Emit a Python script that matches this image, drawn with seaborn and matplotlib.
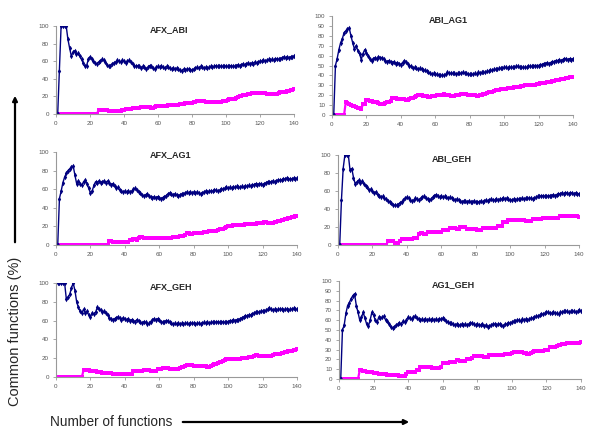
import numpy as np
import pandas as pd
import matplotlib
matplotlib.use("Agg")
import matplotlib.pyplot as plt
import seaborn as sns

# x positions (number of functions)
n_funcs = list(range(1, 141))

titles = ["AFX_ABI", "ABI_AG1", "AFX_AG1", "ABI_GEH", "AFX_GEH", "AG1_GEH"]

afx_abi_blue = [0, 49, 100, 100, 100, 100, 85, 75, 66, 70,
                72, 68, 69, 66, 62, 58, 54, 55, 62, 65,
                63, 60, 58, 57, 59, 60, 62, 61, 59, 56,
                54, 55, 57, 58, 59, 61, 60, 59, 61, 60,
                58, 60, 61, 59, 57, 55, 54, 55, 54, 52,
                54, 53, 51, 53, 55, 54, 52, 51, 53, 54,
                53, 54, 53, 52, 54, 53, 52, 51, 52, 51,
                52, 51, 50, 49, 51, 50, 51, 51, 50, 50,
                51, 52, 53, 52, 54, 53, 52, 53, 52, 53,
                54, 53, 54, 55, 54, 55, 54, 54, 55, 54,
                54, 54, 55, 54, 54, 55, 56, 55, 56, 57,
                56, 57, 58, 57, 58, 57, 59, 58, 59, 60,
                60, 61, 60, 61, 62, 61, 62, 61, 62, 63,
                62, 63, 64, 65, 64, 65, 64, 65, 65, 66]
afx_abi_pink = [0, 0, 0, 0, 0, 0, 0, 0, 0, 0,
                0, 0, 0, 0, 0, 0, 0, 0, 0, 0,
                0, 0, 0, 0, 4, 4, 4, 4, 5, 5,
                3, 3, 3, 3, 3, 3, 3, 3, 5, 5,
                6, 6, 6, 6, 7, 7, 7, 7, 7, 8,
                8, 8, 8, 8, 8, 7, 7, 8, 9, 9,
                9, 9, 9, 9, 9, 10, 10, 10, 10, 10,
                10, 10, 11, 11, 11, 12, 13, 13, 13, 13,
                14, 14, 15, 15, 15, 15, 15, 14, 14, 14,
                14, 14, 14, 14, 14, 14, 14, 15, 15, 15,
                16, 17, 17, 17, 17, 18, 19, 20, 21, 22,
                22, 22, 23, 23, 24, 24, 24, 24, 24, 24,
                24, 24, 24, 23, 23, 23, 23, 23, 23, 23,
                24, 25, 25, 25, 25, 26, 26, 27, 27, 28]

abi_ag1_blue = [0, 50, 57, 66, 73, 77, 83, 85, 87, 88,
                80, 73, 67, 70, 65, 62, 56, 62, 66, 63,
                60, 57, 55, 57, 58, 57, 59, 58, 58, 57,
                55, 54, 55, 54, 53, 54, 52, 53, 52, 51,
                53, 55, 54, 52, 50, 49, 47, 48, 47, 46,
                47, 46, 45, 45, 44, 43, 42, 41, 42, 41,
                41, 40, 40, 40, 40, 41, 43, 42, 42, 42,
                42, 41, 42, 42, 42, 43, 42, 42, 41, 41,
                41, 41, 42, 41, 43, 42, 43, 43, 43, 44,
                44, 45, 45, 46, 46, 46, 47, 47, 47, 48,
                48, 47, 48, 48, 48, 48, 49, 49, 48, 48,
                48, 48, 48, 49, 49, 49, 50, 50, 50, 50,
                51, 51, 52, 52, 53, 52, 53, 54, 54, 55,
                55, 56, 55, 56, 57, 57, 56, 57, 56, 57]
abi_ag1_pink = [0, 0, 0, 0, 0, 0, 0, 13, 12, 11,
                10, 9, 9, 8, 7, 7, 6, 11, 11, 15,
                15, 14, 14, 13, 13, 13, 12, 11, 11, 11,
                12, 13, 13, 14, 17, 17, 17, 16, 16, 16,
                16, 16, 15, 15, 16, 17, 17, 18, 19, 20,
                20, 20, 19, 19, 19, 18, 18, 19, 19, 19,
                20, 20, 20, 20, 21, 20, 20, 20, 19, 19,
                19, 20, 20, 20, 21, 21, 21, 21, 20, 20,
                20, 20, 20, 19, 19, 20, 20, 21, 21, 22,
                23, 23, 23, 24, 25, 25, 25, 26, 26, 26,
                26, 27, 27, 27, 27, 28, 28, 28, 28, 29,
                29, 30, 30, 30, 30, 30, 30, 30, 31, 31,
                32, 32, 32, 32, 33, 33, 33, 34, 34, 35,
                35, 35, 36, 36, 36, 37, 37, 38, 38, 38]

afx_ag1_blue = [0, 50, 58, 67, 73, 77, 80, 82, 84, 85,
                75, 66, 69, 66, 64, 68, 70, 66, 61, 56,
                58, 64, 68, 67, 69, 67, 68, 69, 67, 69,
                67, 65, 66, 63, 61, 62, 59, 58, 57, 58,
                57, 58, 57, 58, 60, 61, 59, 57, 56, 54,
                53, 54, 55, 53, 52, 51, 52, 51, 52, 51,
                50, 51, 52, 53, 55, 56, 55, 54, 55, 54,
                53, 54, 55, 55, 56, 57, 56, 57, 56, 57,
                56, 57, 56, 55, 56, 57, 58, 57, 58, 58,
                58, 59, 59, 58, 59, 60, 60, 61, 62, 61,
                62, 61, 62, 62, 63, 62, 62, 63, 62, 63,
                63, 64, 63, 64, 65, 66, 65, 66, 66, 65,
                66, 67, 68, 68, 68, 69, 68, 69, 70, 70,
                70, 71, 71, 72, 71, 71, 71, 72, 71, 72]
afx_ag1_pink = [0, 0, 0, 0, 0, 0, 0, 0, 0, 0,
                0, 0, 0, 0, 0, 0, 0, 0, 0, 0,
                0, 0, 0, 0, 0, 0, 0, 0, 0, 0,
                4, 4, 3, 3, 3, 3, 3, 3, 3, 3,
                3, 3, 5, 5, 6, 6, 5, 8, 9, 9,
                8, 8, 8, 8, 8, 8, 8, 7, 7, 7,
                7, 7, 7, 8, 8, 8, 8, 9, 9, 9,
                9, 10, 10, 10, 11, 13, 13, 12, 12, 13,
                13, 13, 13, 13, 13, 14, 14, 14, 15, 15,
                15, 15, 15, 16, 17, 17, 17, 18, 19, 20,
                20, 20, 21, 22, 22, 22, 22, 22, 22, 23,
                23, 23, 23, 23, 23, 23, 24, 24, 24, 24,
                25, 25, 24, 24, 24, 24, 25, 25, 26, 26,
                27, 27, 28, 28, 29, 29, 30, 30, 31, 31]

abi_geh_blue = [0, 50, 85, 100, 100, 100, 83, 85, 75, 68,
                70, 72, 69, 71, 68, 66, 64, 61, 62, 60,
                58, 59, 56, 55, 53, 54, 52, 51, 49, 48,
                47, 45, 44, 44, 45, 47, 48, 50, 52, 53,
                52, 50, 49, 50, 52, 51, 50, 52, 53, 54,
                52, 51, 50, 51, 53, 55, 56, 55, 53, 54,
                53, 54, 53, 52, 53, 52, 51, 50, 51, 50,
                49, 48, 49, 49, 48, 49, 48, 48, 49, 48,
                48, 48, 49, 48, 49, 50, 49, 50, 51, 50,
                50, 51, 50, 51, 51, 52, 51, 52, 51, 50,
                50, 51, 50, 51, 51, 51, 52, 51, 52, 52,
                52, 52, 51, 52, 53, 54, 55, 54, 55, 54,
                55, 54, 55, 55, 56, 55, 56, 57, 57, 58,
                57, 58, 58, 57, 58, 58, 57, 58, 57, 57]
abi_geh_pink = [0, 0, 0, 0, 0, 0, 0, 0, 0, 0,
                0, 0, 0, 0, 0, 0, 0, 0, 0, 0,
                0, 0, 0, 0, 0, 0, 0, 0, 4, 4,
                4, 4, 2, 2, 2, 5, 7, 7, 7, 7,
                7, 7, 7, 8, 8, 8, 12, 13, 13, 12,
                12, 15, 15, 15, 15, 14, 14, 14, 14, 14,
                17, 17, 17, 17, 19, 19, 19, 19, 18, 18,
                20, 20, 20, 20, 18, 18, 18, 18, 18, 18,
                17, 17, 17, 19, 19, 19, 19, 19, 19, 19,
                19, 19, 21, 21, 21, 26, 26, 26, 28, 28,
                28, 28, 28, 28, 28, 28, 28, 28, 27, 27,
                27, 27, 29, 29, 29, 29, 29, 29, 30, 30,
                30, 30, 30, 30, 30, 30, 30, 30, 32, 32,
                32, 32, 32, 32, 32, 32, 32, 32, 32, 31]

afx_geh_blue = [100, 100, 100, 100, 100, 83, 85, 88, 95, 100,
                92, 80, 74, 70, 68, 72, 68, 70, 66, 64,
                68, 67, 69, 74, 72, 71, 69, 70, 68, 66,
                63, 62, 61, 62, 63, 64, 63, 61, 63, 62,
                61, 62, 60, 61, 60, 59, 61, 60, 58, 57,
                59, 58, 56, 57, 59, 61, 62, 61, 62, 61,
                59, 58, 59, 60, 60, 58, 57, 56, 57, 56,
                57, 56, 57, 56, 57, 57, 56, 57, 57, 57,
                56, 57, 57, 56, 57, 58, 57, 58, 57, 58,
                58, 59, 58, 59, 58, 58, 59, 58, 59, 59,
                60, 60, 61, 60, 61, 61, 62, 63, 64, 65,
                65, 66, 66, 67, 68, 69, 69, 69, 70, 70,
                70, 71, 72, 73, 72, 71, 72, 71, 72, 72,
                72, 71, 72, 72, 71, 72, 72, 73, 72, 72]
afx_geh_pink = [0, 0, 0, 0, 0, 0, 0, 0, 0, 0,
                0, 0, 0, 0, 0, 7, 7, 7, 7, 6,
                6, 6, 6, 5, 5, 5, 4, 4, 4, 4,
                4, 4, 3, 3, 3, 3, 3, 3, 3, 3,
                3, 3, 3, 3, 6, 6, 6, 6, 6, 6,
                7, 7, 7, 7, 6, 6, 6, 6, 8, 8,
                9, 10, 10, 10, 10, 9, 9, 9, 9, 9,
                9, 10, 11, 11, 12, 13, 13, 13, 13, 12,
                12, 12, 12, 12, 12, 12, 12, 11, 11, 12,
                13, 14, 14, 15, 16, 16, 17, 18, 19, 19,
                19, 19, 19, 19, 19, 19, 19, 20, 20, 20,
                20, 21, 21, 21, 22, 23, 23, 22, 22, 22,
                22, 22, 22, 22, 22, 23, 24, 24, 24, 25,
                26, 26, 27, 27, 28, 28, 28, 29, 29, 30]

ag1_geh_blue = [0, 50, 55, 67, 75, 78, 82, 85, 87, 75,
                68, 60, 63, 68, 62, 56, 54, 60, 68, 65,
                60, 58, 63, 62, 63, 64, 60, 59, 56, 53,
                52, 53, 55, 56, 57, 56, 59, 58, 60, 63,
                62, 61, 63, 64, 62, 61, 60, 61, 60, 61,
                60, 61, 60, 61, 60, 61, 60, 61, 61, 62,
                61, 59, 58, 57, 57, 56, 55, 56, 55, 55,
                56, 55, 56, 55, 56, 57, 57, 56, 55, 56,
                55, 55, 56, 54, 55, 53, 54, 55, 56, 56,
                55, 56, 56, 55, 54, 56, 56, 57, 57, 58,
                59, 59, 60, 60, 59, 61, 60, 61, 60, 61,
                62, 62, 63, 64, 64, 65, 66, 66, 67, 68,
                68, 67, 67, 68, 67, 67, 66, 68, 68, 69,
                69, 69, 68, 69, 69, 69, 68, 69, 70, 69]
ag1_geh_pink = [0, 0, 0, 0, 0, 0, 0, 0, 0, 0,
                0, 9, 9, 8, 8, 7, 7, 7, 7, 6,
                6, 6, 5, 5, 5, 5, 5, 4, 4, 4,
                4, 4, 4, 4, 3, 3, 3, 3, 5, 7,
                7, 7, 7, 7, 9, 9, 12, 12, 12, 12,
                12, 12, 12, 11, 11, 11, 11, 11, 12, 16,
                16, 16, 16, 17, 17, 17, 17, 19, 19, 18,
                18, 18, 18, 20, 20, 20, 21, 23, 23, 23,
                23, 23, 23, 22, 22, 22, 24, 24, 24, 24,
                25, 25, 25, 25, 25, 26, 26, 26, 26, 27,
                28, 28, 28, 28, 28, 28, 27, 27, 26, 26,
                27, 28, 29, 29, 29, 29, 29, 29, 30, 30,
                30, 33, 33, 33, 33, 34, 35, 35, 36, 36,
                36, 37, 37, 37, 37, 37, 37, 37, 37, 38]

blue_series = [afx_abi_blue, abi_ag1_blue, afx_ag1_blue, abi_geh_blue, afx_geh_blue, ag1_geh_blue]
pink_series = [afx_abi_pink, abi_ag1_pink, afx_ag1_pink, abi_geh_pink, afx_geh_pink, ag1_geh_pink]
ytick_steps = [20, 10, 20, 20, 20, 10]

sns.set_style("white")
plt.rcParams["font.family"] = ["Liberation Sans", "DejaVu Sans"]

W, H = 600, 443
fig = plt.figure(figsize=(6, 4.43), dpi=100)

# axes boxes in pixels: left, right, top(y=100), bottom(y=0)
boxes = [(56, 294, 26, 114), (332, 573, 16, 115),
         (56, 297, 152, 245), (338, 579, 155, 245),
         (56, 297, 283, 377), (339, 581, 281, 379)]
title_pos = [(169, 30), (448, 20), (171, 155), (452, 159), (171, 287), (453, 285)]

for i in range(6):
    l, r, t, b = boxes[i]
    ax = fig.add_axes([l / W, 1 - b / H, (r - l) / W, (b - t) / H])
    df = pd.DataFrame({"n": n_funcs, "blue": blue_series[i], "pink": pink_series[i]})
    sns.lineplot(data=df, x="n", y="pink", ax=ax, color="#ff00ff", linewidth=1.6,
                 marker="s", markersize=2.8, markeredgewidth=0)
    sns.lineplot(data=df, x="n", y="blue", ax=ax, color="#000080", linewidth=1.0,
                 marker="d", markersize=2.8, markeredgewidth=0)
    ax.set_xlim(0, 140)
    ax.set_ylim(0, 100)
    ax.set_xticks(range(0, 141, 20))
    ax.set_yticks(range(0, 101, ytick_steps[i]))
    ax.set_xlabel("")
    ax.set_ylabel("")
    for s in ["top", "right"]:
        ax.spines[s].set_visible(False)
    for s in ["left", "bottom"]:
        ax.spines[s].set_color("#999999")
        ax.spines[s].set_linewidth(0.8)
    ax.tick_params(labelsize=4.5, labelcolor="#555555", color="#999999",
                   length=2, width=0.6, pad=3, direction="out", left=True, bottom=True)
    ax.patch.set_alpha(0)
    tx, ty = title_pos[i]
    fig.text(tx / W, 1 - ty / H, titles[i], fontsize=6.5, fontweight="bold",
             ha="center", va="center")

# axis labels with arrows
fig.text(15 / W, 1 - 331 / H, "Common functions (%)", rotation=90, fontsize=10.5,
         ha="center", va="center")
fig.text(50 / W, 1 - 422 / H, "Number of functions", fontsize=9.8,
         ha="left", va="center")
fig.add_artist(matplotlib.patches.FancyArrowPatch(
    (15 / W, 1 - 245 / H), (15 / W, 1 - 93 / H), transform=fig.transFigure,
    arrowstyle="-|>", mutation_scale=7, linewidth=1.6, color="black"))
fig.add_artist(matplotlib.patches.FancyArrowPatch(
    (180 / W, 1 - 422 / H), (412 / W, 1 - 422 / H), transform=fig.transFigure,
    arrowstyle="-|>", mutation_scale=7, linewidth=1.6, color="black"))

fig.savefig("out.png", dpi=100, facecolor="white")
